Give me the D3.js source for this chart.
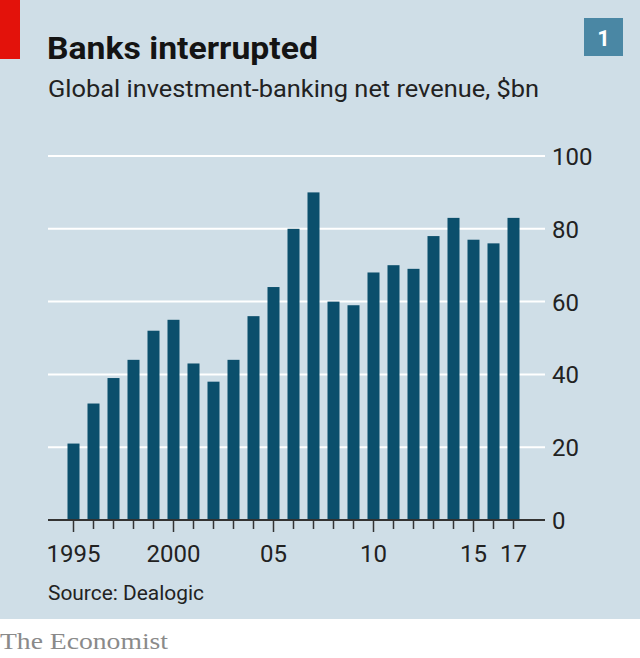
<!DOCTYPE html>
<html><head><meta charset="utf-8">
<script src="https://cdn.jsdelivr.net/npm/d3@7"></script>
<style>html,body{margin:0;padding:0;background:#fff;}svg{display:block;}</style>
</head><body>
<script>
const years = [1995,1996,1997,1998,1999,2000,2001,2002,2003,2004,2005,2006,2007,2008,2009,2010,2011,2012,2013,2014,2015,2016,2017];
const revenue = [21,32,39,44,52,55,43,38,44,56,64,80,90,60,59,68,70,69,78,83,77,76,83];
const yTicks = [0,20,40,60,80,100];
const xTickYears = [1995,2000,2005,2010,2015,2017];
const xTickLabels = ["1995","2000","05","10","15","17"];

const W = 640, H = 658;
const svg = d3.select("body").append("svg").attr("width", W).attr("height", H);
const font = "'Liberation Sans Narrow','Roboto','Liberation Sans',sans-serif";

svg.append("rect").attr("x",0).attr("y",0).attr("width",W).attr("height",619).attr("fill","#cfdee7");
svg.append("rect").attr("x",0).attr("y",0).attr("width",20).attr("height",59).attr("fill","#e3120b");

svg.append("text").attr("x",47).attr("y",59).attr("font-family",font).attr("font-weight","bold")
  .attr("font-size",32).attr("fill","#141414").attr("textLength",271).attr("lengthAdjust","spacingAndGlyphs")
  .text("Banks interrupted");
svg.append("text").attr("x",48).attr("y",97).attr("font-family",font)
  .attr("font-size",23).attr("fill","#222").attr("textLength",491).attr("lengthAdjust","spacingAndGlyphs")
  .text("Global investment-banking net revenue, $bn");

svg.append("rect").attr("x",584).attr("y",18).attr("width",39).attr("height",38).attr("fill","#4a87a4");
svg.append("text").attr("x",603.5).attr("y",46).attr("text-anchor","middle").attr("font-family",font)
  .attr("font-weight","bold").attr("font-size",22).attr("fill","#fff").text("1");

const x = d3.scaleLinear().domain([1995,2017]).range([73.5,513.5]);
const y = d3.scaleLinear().domain([0,100]).range([520,156]);
const barW = 12;

// gridlines
svg.append("g").selectAll("line").data(yTicks.filter(d=>d>0)).join("line")
  .attr("x1",48).attr("x2",545).attr("y1",d=>y(d)).attr("y2",d=>y(d))
  .attr("stroke","#fff").attr("stroke-width",2);

// bars
svg.append("g").selectAll("rect").data(years).join("rect")
  .attr("x",(d)=>x(d)-barW/2).attr("width",barW)
  .attr("y",(d,i)=>y(revenue[i])).attr("height",(d,i)=>y(0)-y(revenue[i]))
  .attr("fill","#0b4f6c");

// y axis labels
const yAxis = d3.axisRight(y).tickValues(yTicks).tickSize(0).tickPadding(7).tickFormat(d3.format("d"));
const gy = svg.append("g").attr("transform","translate(545,0)").call(yAxis);
gy.select(".domain").remove();
gy.selectAll("text").attr("font-family",font).attr("font-size",24).attr("fill","#222").attr("dy","0.35em");

// x axis baseline
svg.append("line").attr("x1",48).attr("x2",545).attr("y1",y(0)).attr("y2",y(0))
  .attr("stroke","#333").attr("stroke-width",2);

// x ticks
svg.append("g").selectAll("line").data(years).join("line")
  .attr("x1",d=>x(d)).attr("x2",d=>x(d)).attr("y1",y(0))
  .attr("y2",d=>y(0)+(xTickYears.includes(d)&&d!==2017?12:9))
  .attr("stroke","#333").attr("stroke-width",1.5);

svg.append("g").selectAll("text").data(xTickYears).join("text")
  .attr("x",d=>x(d)).attr("y",562).attr("text-anchor","middle")
  .attr("font-family",font).attr("font-size",24).attr("fill","#222")
  .text((d,i)=>xTickLabels[i]);

svg.append("text").attr("x",48).attr("y",600).attr("font-family",font)
  .attr("font-size",20).attr("fill","#222").attr("textLength",156).attr("lengthAdjust","spacingAndGlyphs")
  .text("Source: Dealogic");

svg.append("text").attr("x",0).attr("y",649).attr("font-family","'Liberation Serif','DejaVu Serif',serif")
  .attr("font-size",24).attr("fill","#8a8a8a").attr("textLength",168).attr("lengthAdjust","spacingAndGlyphs")
  .text("The Economist");
</script>
</body></html>
